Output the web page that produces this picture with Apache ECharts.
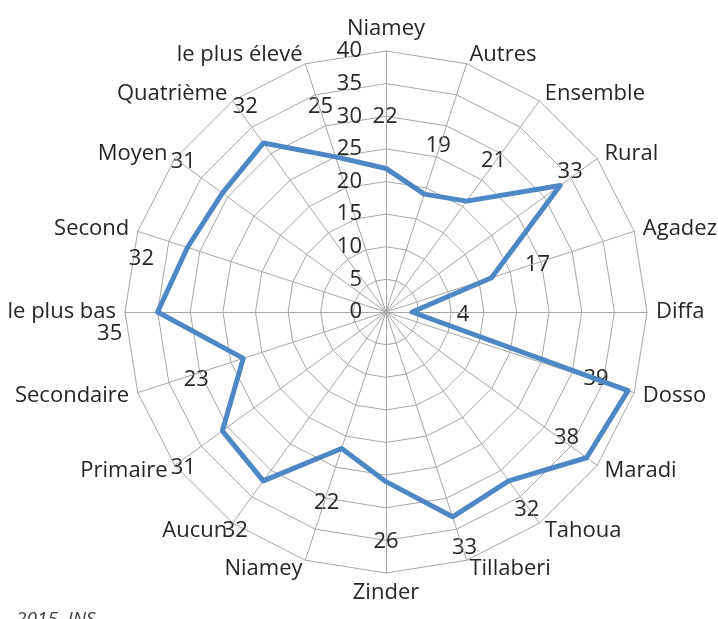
<!DOCTYPE html>
<html>
<head>
<meta charset="utf-8">
<script src="https://cdn.jsdelivr.net/npm/echarts@6/dist/echarts.min.js"></script>
<style>
  html, body { margin: 0; padding: 0; background: #fff; }
  #main { width: 718px; height: 619px; }
</style>
</head>
<body>
<div id="main"></div>
<script>
// categories, clockwise from the top
const categories = [
  "Niamey", "Autres", "Ensemble", "Rural", "Agadez", "Diffa", "Dosso",
  "Maradi", "Tahoua", "Tillaberi", "Zinder", "Niamey", "Aucun", "Primaire",
  "Secondaire", "le plus bas", "Second", "Moyen", "Quatrième", "le plus élevé"
];
const values = [22, 19, 21, 33, 17, 4, 39, 38, 32, 33, 26, 22, 32, 31, 23, 35, 32, 31, 32, 25];
const axisMax = 40;
const axisStep = 5;
// where each data label sits relative to its point (px), like the excel layout
const labelDx = [-1, 14, 27, 10, 46, 51, -32, -20, 18, 12, 0, -15, -28, -39, -47, -48, -46, -39, -18, -15];
const labelDy = [-52, -48, -40, -14, -13, 3, -12, -20, 29, 31, 60, 54, 50, 37, 21, 22, 11, -31, -36, -50];

const FONT = "'Open Sans', 'DejaVu Sans', sans-serif";
const n = categories.length;
// echarts goes counter-clockwise, so flip everything after the first spoke
const order = categories.map((c, i) => (i === 0 ? 0 : n - i));
const indicator = order.map((k) => ({ name: categories[k], max: axisMax, min: 0 }));
indicator[0].axisLabel = {
  show: true,
  fontSize: 22,
  fontFamily: FONT,
  color: "#262626",
  margin: 24
};
const seriesValues = order.map((k) => values[k]);

const chart = echarts.init(document.getElementById("main"));
const option = {
  animation: false,
  radar: {
    center: [386, 312],
    radius: 261,
    startAngle: 90,
    shape: "polygon",
    splitNumber: axisMax / axisStep,
    indicator: indicator,
    axisName: {
      color: "#262626",
      fontSize: 22,
      fontFamily: FONT
    },
    nameGap: 9,
    axisLine: { lineStyle: { color: "#a6a6a6", width: 1 } },
    splitLine: { lineStyle: { color: "#a6a6a6", width: 1 } },
    splitArea: { show: false },
    axisTick: { show: false },
    axisLabel: { show: false }
  },
  series: [
    {
      type: "radar",
      symbol: "none",
      lineStyle: { color: "#4f86c6", width: 5 },
      data: [{ value: seriesValues }]
    }
  ]
};
chart.setOption(option);

// data labels placed next to each point through the radar coordinate system
const coordSys = chart.getModel().getComponent("radar").coordinateSystem;
const texts = [];
values.forEach((v, i) => {
  const j = i === 0 ? 0 : n - i;
  const p = coordSys.dataToPoint(v, j);
  texts.push({
    type: "text",
    x: p[0] + labelDx[i],
    y: p[1] + labelDy[i],
    style: {
      text: String(v),
      fill: "#262626",
      font: "22px " + FONT,
      align: "center",
      verticalAlign: "middle"
    }
  });
});
texts.push({
  type: "text",
  left: 16,
  top: 610,
  style: {
    text: "2015, INS",
    fill: "#404040",
    font: "italic 19px " + FONT
  }
});
chart.setOption({ graphic: texts });
</script>
</body>
</html>
